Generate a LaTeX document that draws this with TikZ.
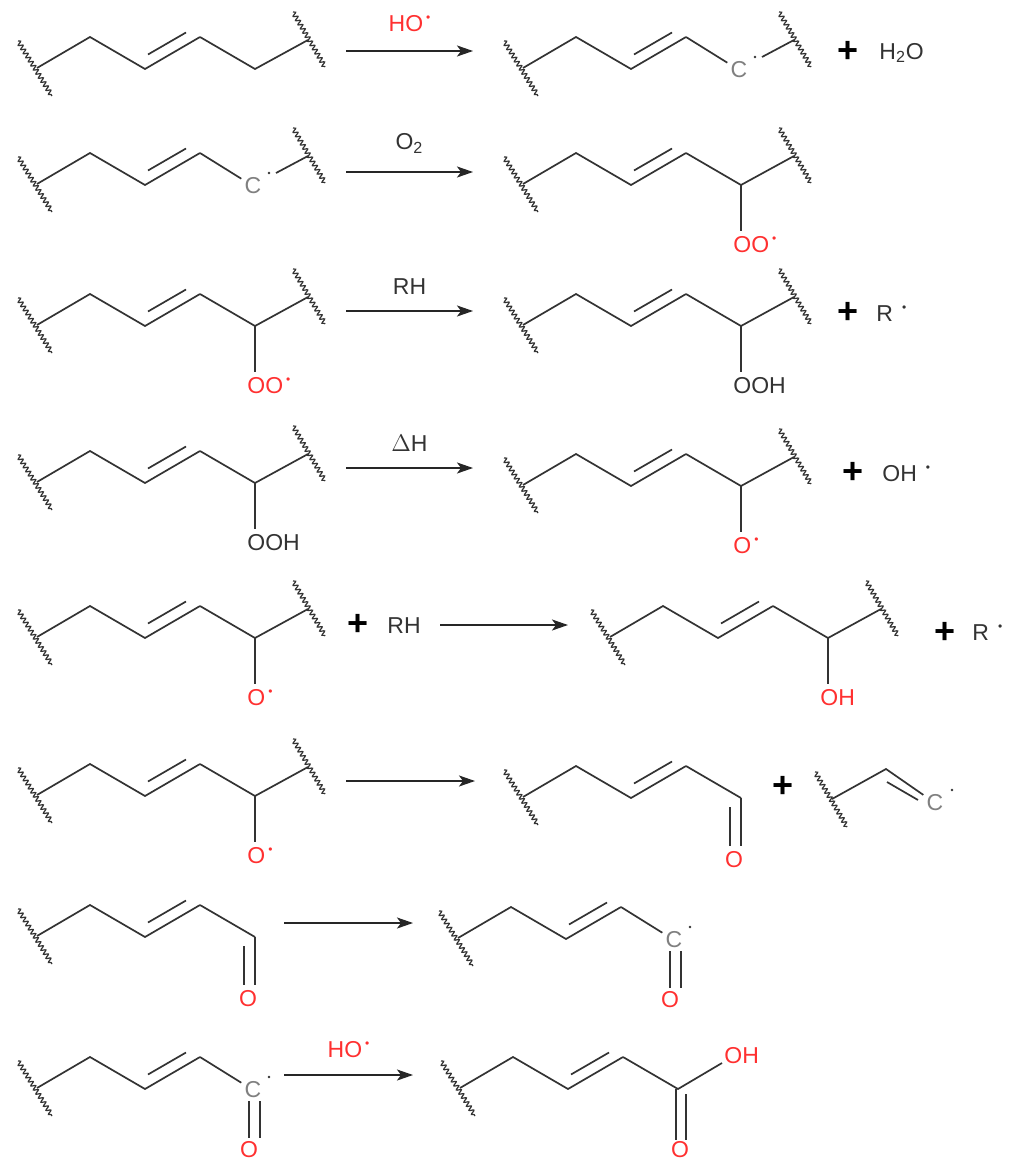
\documentclass[tikz,border=0pt]{standalone}
\usepackage{fontspec}
\setmainfont{Liberation Sans}
\usetikzlibrary{decorations.pathmorphing,arrows.meta}
\definecolor{lc}{HTML}{333333}
\definecolor{rd}{HTML}{FF3030}
\definecolor{gc}{HTML}{808080}
\newcommand\rad{\hspace{1.5pt}\raisebox{0.85ex}{\fontsize{6}{6}\selectfont •}}
\tikzset{
 bd/.style={line width=0.85pt, draw=lc},
 wv/.style={line width=0.6pt, draw=lc, decorate, decoration={snake, segment length=2.4pt, amplitude=1.1pt}},
 lab/.style={font=\fontsize{11.5}{13}\selectfont, text=lc, inner sep=0pt},
 plus/.style={font=\fontsize{18}{18}\selectfont\bfseries, text=black, inner sep=0pt},
 arr/.style={line width=0.85pt, draw=black!85, -{Stealth[length=8pt,width=5.5pt,inset=2pt]}},
}
\newcommand\chainbase[1]{%
 \coordinate (#1J) at (0,0); \coordinate (#1A) at (53,-31);
 \coordinate (#1B) at (108,1); \coordinate (#1C) at (163,-31);
 \coordinate (#1D) at (218,1); \coordinate (#1E) at (271,-28);
 \draw[wv] (-19,-27) -- (15,28);
 \draw[bd] (#1J) -- (#1A) -- (#1B) -- (#1C);
 \draw[bd] (111,-13.5) -- (149,-35.5);}
\newcommand\molfull[3]{\begin{scope}[shift={(#2,#3)}]\chainbase{#1}
 \draw[bd] (#1C) -- (#1D) -- (#1E); \draw[wv] (256,-56) -- (288,-1);\end{scope}}
\newcommand\molrad[3]{\begin{scope}[shift={(#2,#3)}]\chainbase{#1}
 \node[lab, text=gc, inner sep=1.5pt] (#1X) at (216,2) {C};
 \fill[lc] (232,-11) circle (1.3);
 \draw[bd] (#1C) -- (#1X); \draw[bd] (239,-11) -- (#1E); \draw[wv] (256,-56) -- (288,-1);\end{scope}}
\newcommand\molsub[5]{\begin{scope}[shift={(#2,#3)}]\chainbase{#1}
 \draw[bd] (#1C) -- (#1D) -- (#1E); \draw[wv] (256,-56) -- (288,-1);
 \coordinate (#1S) at (218,47);
 \draw[bd] (#1D) -- (#1S);
 \node[lab, text=#5, anchor=north west] (#1L) at (210,52) {#4};\end{scope}}
\newcommand\molald[3]{\begin{scope}[shift={(#2,#3)}]\chainbase{#1}
 \draw[bd] (#1C) -- (#1D); \draw[bd] (#1D) -- (218,49); \draw[bd] (207,10) -- (207,49);
 \node[lab, text=rd] (#1O) at (211,63) {O};\end{scope}}
\newcommand\molacyl[3]{\begin{scope}[shift={(#2,#3)}]\chainbase{#1}
 \node[lab, text=gc, inner sep=1.5pt] (#1X) at (216,2) {C};
 \fill[lc] (232,-11) circle (1.3);
 \draw[bd] (#1C) -- (#1X); \draw[bd] (212,13) -- (212,50); \draw[bd] (223,13) -- (223,50);
 \node[lab, text=rd] (#1O) at (212,62) {O};\end{scope}}
\newcommand\molacid[3]{\begin{scope}[shift={(#2,#3)}]\chainbase{#1}
 \draw[bd] (#1C) -- (#1D) -- (262,-25);
 \draw[bd] (216,1) -- (216,52); \draw[bd] (226,6) -- (226,52);
 \node[lab, text=rd] (#1O) at (220,62) {O};
 \node[lab, text=rd, anchor=west] (#1H) at (264,-32) {OH};\end{scope}}
\begin{document}
\begin{tikzpicture}[x=0.5pt,y=-0.5pt]
\fill[white] (0,0) rectangle (1011,1172);
\useasboundingbox (0,0) rectangle (1011,1172);
% row 1
\molfull{a}{37}{68}
\coordinate (r1s) at (346,51); \coordinate (r1e) at (473,51);
\draw[arr] (r1s) -- node[lab, above=9pt, text=rd] {HO\rad} (r1e);
\molrad{b}{523}{68}
\node[plus] (p1) at (848,52) {+};
\node[lab, anchor=west] (w1) at (879,53) {H\textsubscript{2}O};
% row 2
\molrad{c}{37}{184}
\coordinate (r2s) at (346,172); \coordinate (r2e) at (473,172);
\draw[arr] (r2s) -- node[lab, above=9pt] {O\textsubscript{2}} (r2e);
\molsub{d}{523}{184}{OO\rad}{rd}
% row 3
\molsub{e}{37}{325}{OO\rad}{rd}
\coordinate (r3s) at (346,311); \coordinate (r3e) at (473,311);
\draw[arr] (r3s) -- node[lab, above=8pt] {RH} (r3e);
\molsub{f}{523}{325}{OOH}{lc}
\node[plus] (p3) at (848,313) {+};
\node[lab, anchor=west] (rr3) at (876,314) {R\hspace{3pt}\rad};
% row 4
\molsub{g}{37}{482}{OOH}{lc}
\coordinate (r4s) at (346,468); \coordinate (r4e) at (473,468);
\draw[arr] (r4s) -- node[lab, above=8pt] {$\Delta$H} (r4e);
\molsub{h}{523}{485}{O\rad}{rd}
\node[plus] (p4) at (853,473) {+};
\node[lab, anchor=west] (oh4) at (882,474) {OH\hspace{3pt}\rad};
% row 5
\molsub{i}{37}{637}{O\rad}{rd}
\node[plus] (p5) at (358,625) {+};
\node[lab, anchor=west] (rh5) at (387,626) {RH};
\coordinate (r5s) at (440,625); \coordinate (r5e) at (568,625);
\draw[arr] (r5s) -- (r5e);
\molsub{j}{610}{637}{OH}{rd}
\node[plus] (p5b) at (945,633) {+};
\node[lab, anchor=west] (rr5) at (972,633) {R\hspace{3pt}\rad};
% row 6
\molsub{k}{37}{795}{O\rad}{rd}
\coordinate (r6s) at (346,781); \coordinate (r6e) at (475,781);
\draw[arr] (r6s) -- (r6e);
\molald{l}{523}{797}
\node[plus] (p6) at (783,787) {+};
\coordinate (fJ) at (832,799); \coordinate (fA) at (886,769);
\draw[wv] (815,772) -- (847,827);
\node[lab, text=gc, inner sep=1.5pt] (fC) at (935,803) {C};
\fill[lc] (952,790) circle (1.3);
\draw[bd] (fJ) -- (fA) -- (fC);
\draw[bd] (887,782) -- (918,800);
% row 7
\molald{m}{37}{936}
\coordinate (r7s) at (284,923); \coordinate (r7e) at (413,923);
\draw[arr] (r7s) -- (r7e);
\molacyl{n}{458}{938}
% row 8
\molacyl{o}{37}{1088}
\coordinate (r8s) at (284,1075); \coordinate (r8e) at (413,1075);
\draw[arr] (r8s) -- node[lab, above=8pt, text=rd] {HO\rad} (r8e);
\molacid{q}{460}{1088}
\end{tikzpicture}
\end{document}
